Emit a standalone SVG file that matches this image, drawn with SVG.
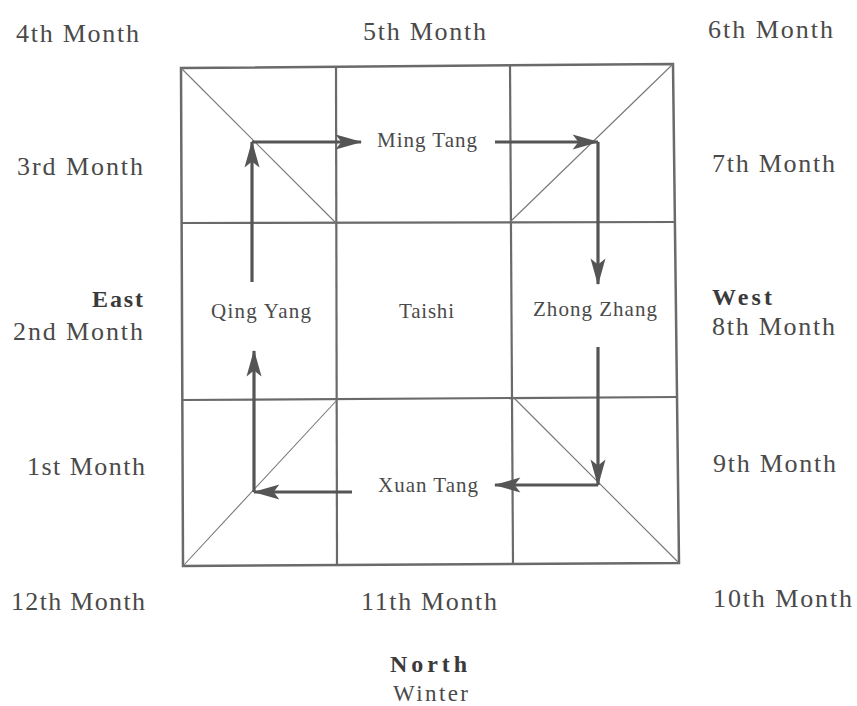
<svg xmlns="http://www.w3.org/2000/svg" width="857" height="706" viewBox="0 0 857 706">
<style>
.bg{fill:#ffffff}
.frame{fill:none;stroke:#6a6a6a;stroke-width:2.5;stroke-linejoin:miter}
.grid{stroke:#6a6a6a;stroke-width:2.2;fill:none}
.diag{stroke:#777;stroke-width:1.1;fill:none}
.arr{stroke:#555;stroke-width:3.2;fill:none}
.lbl{font-family:"Liberation Serif","Times New Roman",serif;font-size:26px;fill:#4a4a4a}
.bold{font-weight:bold;font-size:24px;fill:#3a3a3a}
.node{font-family:"Liberation Serif","Times New Roman",serif;font-size:21px;fill:#4a4a4a}
</style>
<defs>
<marker id="ah" markerUnits="userSpaceOnUse" markerWidth="30" markerHeight="20" viewBox="-24 -8 26 16" refX="0" refY="0" orient="auto">
<path d="M1,0 L-22,-6.5 L-17,0 L-22,6.5 Z" fill="#555"/>
</marker>
</defs>
<rect class="bg" x="0" y="0" width="857" height="706"/>
<g id="grid">
<polygon class="frame" points="181,68 673,64 679,563 183,566"/>
<line class="grid" x1="336" y1="67" x2="337" y2="565"/>
<line class="grid" x1="510" y1="65" x2="513" y2="564"/>
<line class="grid" x1="182" y1="223" x2="676" y2="222"/>
<line class="grid" x1="182" y1="400" x2="678" y2="397"/>
<line class="diag" x1="181" y1="68" x2="336" y2="223"/>
<line class="diag" x1="673" y1="64" x2="510" y2="222"/>
<line class="diag" x1="337" y1="400" x2="183" y2="566"/>
<line class="diag" x1="513" y1="397" x2="679" y2="563"/>
</g>
<g id="connectors">
<line class="arr" x1="252" y1="282" x2="252" y2="142" marker-end="url(#ah)"/>
<line class="arr" x1="252" y1="142" x2="361" y2="142" marker-end="url(#ah)"/>
<line class="arr" x1="495" y1="142" x2="598" y2="142" marker-end="url(#ah)"/>
<line class="arr" x1="598" y1="142" x2="598" y2="284" marker-end="url(#ah)"/>
<line class="arr" x1="598" y1="347" x2="598" y2="485" marker-end="url(#ah)"/>
<line class="arr" x1="598" y1="485" x2="495" y2="485" marker-end="url(#ah)"/>
<line class="arr" x1="352" y1="492" x2="254" y2="492" marker-end="url(#ah)"/>
<line class="arr" x1="254" y1="492" x2="254" y2="351" marker-end="url(#ah)"/>
</g>
<g id="node-ming-tang"><text class="node" x="377" y="147" textLength="100" lengthAdjust="spacing">Ming Tang</text></g>
<g id="node-qing-yang"><text class="node" x="211" y="318" textLength="100" lengthAdjust="spacing">Qing Yang</text></g>
<g id="node-taishi"><text class="node" x="399" y="318" textLength="55" lengthAdjust="spacing">Taishi</text></g>
<g id="node-zhong-zhang"><text class="node" x="533" y="316" textLength="124" lengthAdjust="spacing">Zhong Zhang</text></g>
<g id="node-xuan-tang"><text class="node" x="378" y="492" textLength="100" lengthAdjust="spacing">Xuan Tang</text></g>
<g id="labels">
<text class="lbl" x="16" y="42" textLength="123" lengthAdjust="spacing">4th Month</text>
<text class="lbl" x="363" y="40" textLength="123" lengthAdjust="spacing">5th Month</text>
<text class="lbl" x="708" y="38" textLength="125" lengthAdjust="spacing">6th Month</text>
<text class="lbl" x="17" y="175" textLength="126" lengthAdjust="spacing">3rd Month</text>
<text class="lbl" x="712" y="172" textLength="123" lengthAdjust="spacing">7th Month</text>
<text class="lbl bold" x="92" y="307" textLength="51" lengthAdjust="spacing">East</text>
<text class="lbl" x="13" y="340" textLength="130" lengthAdjust="spacing">2nd Month</text>
<text class="lbl bold" x="712" y="305" textLength="60" lengthAdjust="spacing">West</text>
<text class="lbl" x="712" y="335" textLength="123" lengthAdjust="spacing">8th Month</text>
<text class="lbl" x="27" y="475" textLength="118" lengthAdjust="spacing">1st Month</text>
<text class="lbl" x="713" y="472" textLength="123" lengthAdjust="spacing">9th Month</text>
<text class="lbl" x="11" y="610" textLength="134" lengthAdjust="spacing">12th Month</text>
<text class="lbl" x="361" y="610" textLength="136" lengthAdjust="spacing">11th Month</text>
<text class="lbl" x="713" y="607" textLength="139" lengthAdjust="spacing">10th Month</text>
<text class="lbl bold" x="390" y="672" textLength="77" lengthAdjust="spacing">North</text>
<text class="lbl" x="393" y="701" textLength="75" lengthAdjust="spacing" style="font-size:23px">Winter</text>
</g>
</svg>
